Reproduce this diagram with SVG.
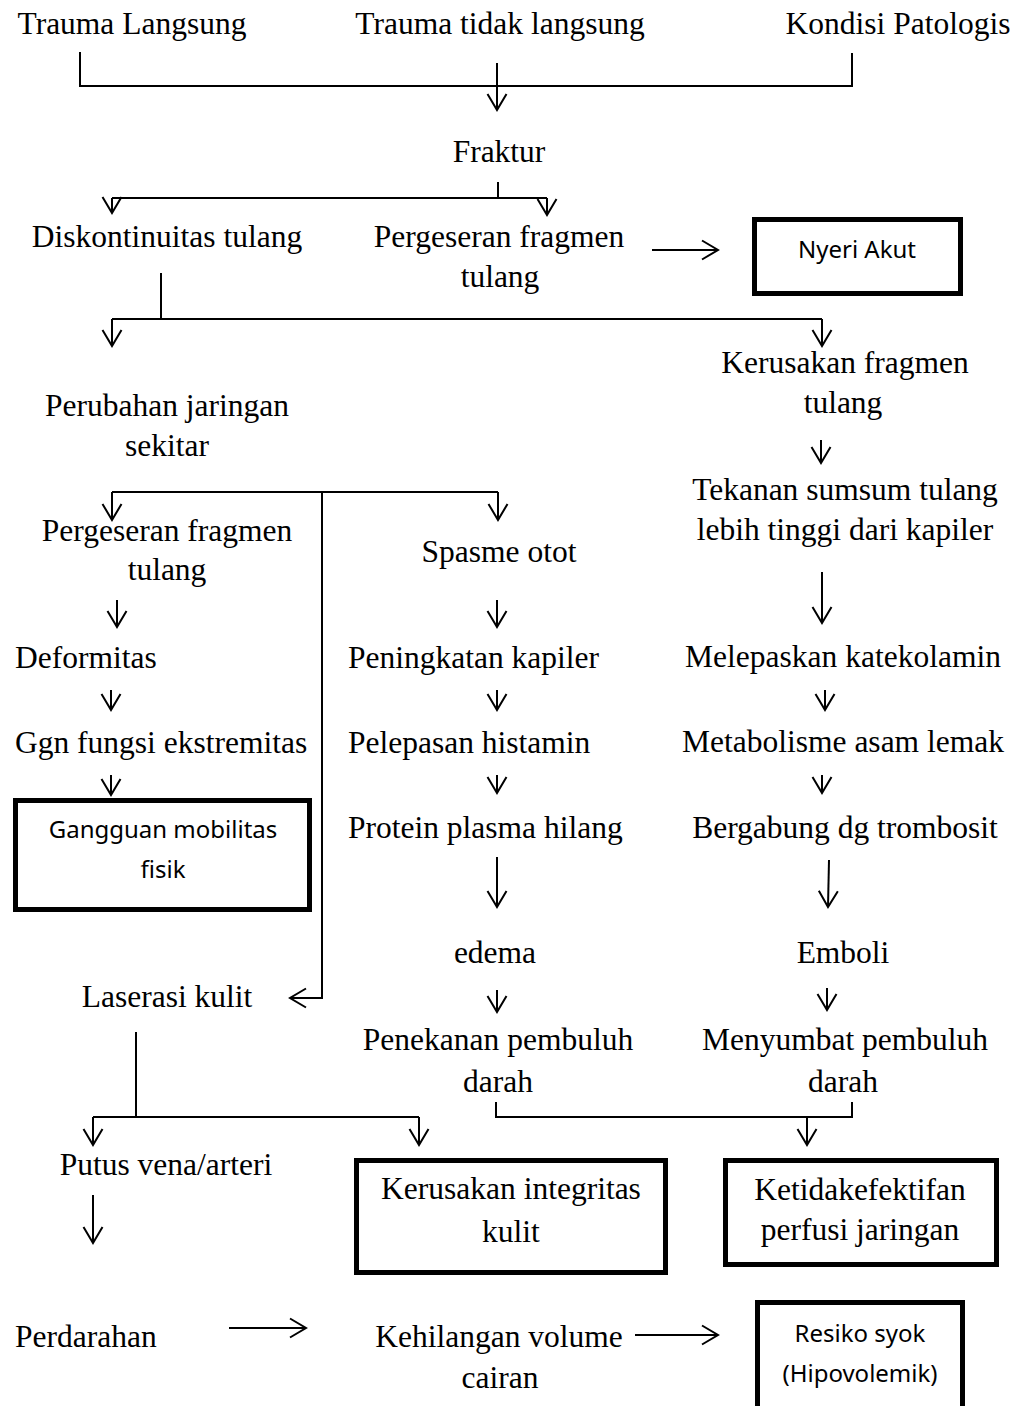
<svg xmlns="http://www.w3.org/2000/svg" width="1031" height="1406" viewBox="0 0 1031 1406">
<style>
.t{font-family:"Liberation Serif","Times New Roman",serif;font-size:31.5px;fill:#000}
.c{font-family:"Noto Sans","Liberation Sans",sans-serif;font-size:24px;fill:#000}
.m{text-anchor:middle}
.box{fill:none;stroke:#000;stroke-width:5}
.ln{fill:none;stroke:#000;stroke-width:2}
.ar{fill:none;stroke:#000;stroke-width:2;marker-end:url(#a)}
</style>
<defs>
<marker id="a" markerUnits="userSpaceOnUse" markerWidth="22" markerHeight="24" viewBox="-19 -12 22 24" refX="0" refY="0" orient="auto">
<path d="M-16,-9.5 L0,0 L-16,9.5" fill="none" stroke="#000" stroke-width="2"/>
</marker>
</defs>
<rect width="1031" height="1406" fill="#fff"/>

<g id="n-trauma-langsung"><text class="t m" x="132" y="34">Trauma Langsung</text></g>
<g id="n-trauma-tidak"><text class="t m" x="500" y="34">Trauma tidak langsung</text></g>
<g id="n-kondisi"><text class="t m" x="898" y="34">Kondisi Patologis</text></g>
<g id="n-fraktur"><text class="t m" x="499" y="162">Fraktur</text></g>
<g id="n-diskontinuitas"><text class="t m" x="167" y="247">Diskontinuitas tulang</text></g>
<g id="n-pergeseran1"><text class="t m" x="499" y="247">Pergeseran fragmen</text><text class="t m" x="500" y="287">tulang</text></g>
<g id="n-nyeri"><rect class="box" x="754.5" y="219.5" width="206" height="74"/><text class="c m" x="857" y="258">Nyeri Akut</text></g>
<g id="n-perubahan"><text class="t m" x="167" y="416">Perubahan jaringan</text><text class="t m" x="167" y="456">sekitar</text></g>
<g id="n-kerusakan-fragmen"><text class="t m" x="845" y="373">Kerusakan fragmen</text><text class="t m" x="843" y="413">tulang</text></g>
<g id="n-tekanan"><text class="t m" x="845" y="500">Tekanan sumsum tulang</text><text class="t m" x="845" y="540">lebih tinggi dari kapiler</text></g>
<g id="n-pergeseran2"><text class="t m" x="167" y="541">Pergeseran fragmen</text><text class="t m" x="167" y="580">tulang</text></g>
<g id="n-spasme"><text class="t m" x="499" y="562">Spasme otot</text></g>
<g id="n-deformitas"><text class="t" x="15" y="668">Deformitas</text></g>
<g id="n-ggn"><text class="t" x="15" y="753">Ggn fungsi ekstremitas</text></g>
<g id="n-gangguan"><rect class="box" x="15.5" y="800.5" width="294" height="109"/><text class="c m" x="163" y="838">Gangguan mobilitas</text><text class="c m" x="163" y="878">fisik</text></g>
<g id="n-peningkatan"><text class="t" x="348" y="668">Peningkatan kapiler</text></g>
<g id="n-pelepasan"><text class="t" x="348" y="753">Pelepasan histamin</text></g>
<g id="n-protein"><text class="t" x="348" y="838">Protein plasma hilang</text></g>
<g id="n-edema"><text class="t m" x="495" y="963">edema</text></g>
<g id="n-penekanan"><text class="t m" x="498" y="1050">Penekanan pembuluh</text><text class="t m" x="498" y="1092">darah</text></g>
<g id="n-melepaskan"><text class="t m" x="843" y="667">Melepaskan katekolamin</text></g>
<g id="n-metabolisme"><text class="t m" x="843" y="752">Metabolisme asam lemak</text></g>
<g id="n-bergabung"><text class="t m" x="845" y="838">Bergabung dg trombosit</text></g>
<g id="n-emboli"><text class="t m" x="843" y="963">Emboli</text></g>
<g id="n-menyumbat"><text class="t m" x="845" y="1050">Menyumbat pembuluh</text><text class="t m" x="843" y="1092">darah</text></g>
<g id="n-laserasi"><text class="t m" x="167" y="1007">Laserasi kulit</text></g>
<g id="n-putus"><text class="t m" x="166" y="1175">Putus vena/arteri</text></g>
<g id="n-kerusakan-integritas"><rect class="box" x="356.5" y="1160.5" width="309" height="112"/><text class="t m" x="511" y="1199">Kerusakan integritas</text><text class="t m" x="511" y="1242">kulit</text></g>
<g id="n-ketidakefektifan"><rect class="box" x="725.5" y="1160.5" width="271" height="104"/><text class="t m" x="860" y="1200">Ketidakefektifan</text><text class="t m" x="860" y="1240">perfusi jaringan</text></g>
<g id="n-perdarahan"><text class="t" x="15" y="1347">Perdarahan</text></g>
<g id="n-kehilangan"><text class="t m" x="499" y="1347">Kehilangan volume</text><text class="t m" x="500" y="1388">cairan</text></g>
<g id="n-resiko"><rect class="box" x="757.5" y="1302.5" width="205" height="120"/><text class="c m" x="860" y="1342">Resiko syok</text><text class="c m" x="860" y="1382">(Hipovolemik)</text></g>

<g id="connectors">
<polyline class="ln" points="80,52 80,86 852,86 852,53"/>
<line class="ar" x1="497" y1="63" x2="497" y2="110"/>
<line class="ln" x1="498" y1="182" x2="498" y2="198"/>
<line class="ln" x1="112" y1="198" x2="547" y2="198"/>
<line class="ar" x1="112" y1="198" x2="112" y2="213"/>
<line class="ar" x1="547" y1="198" x2="547" y2="215"/>
<line class="ar" x1="652" y1="250" x2="718" y2="250"/>
<line class="ln" x1="161" y1="273" x2="161" y2="319"/>
<line class="ln" x1="112" y1="319" x2="822" y2="319"/>
<line class="ar" x1="112" y1="319" x2="112" y2="346"/>
<line class="ar" x1="822" y1="319" x2="822" y2="346"/>
<line class="ar" x1="821" y1="440" x2="821" y2="463"/>
<line class="ar" x1="822" y1="572" x2="822" y2="623"/>
<line class="ln" x1="112" y1="492" x2="498" y2="492"/>
<line class="ar" x1="112" y1="492" x2="112" y2="520"/>
<line class="ar" x1="498" y1="492" x2="498" y2="520"/>
<polyline class="ar" points="322,492 322,998 290,998"/>
<line class="ar" x1="117" y1="600" x2="117" y2="627"/>
<line class="ar" x1="497" y1="600" x2="497" y2="627"/>
<line class="ar" x1="111" y1="690" x2="111" y2="710"/>
<line class="ar" x1="111" y1="775" x2="111" y2="795"/>
<line class="ar" x1="497" y1="690" x2="497" y2="710"/>
<line class="ar" x1="497" y1="775" x2="497" y2="793"/>
<line class="ar" x1="497" y1="857" x2="497" y2="907"/>
<line class="ar" x1="497" y1="990" x2="497" y2="1012"/>
<line class="ar" x1="825" y1="690" x2="825" y2="710"/>
<line class="ar" x1="822" y1="775" x2="822" y2="793"/>
<line class="ar" x1="829" y1="860" x2="828" y2="907"/>
<line class="ar" x1="827" y1="988" x2="827" y2="1010"/>
<polyline class="ln" points="496,1102 496,1117 852,1117 852,1102"/>
<line class="ar" x1="807" y1="1117" x2="807" y2="1145"/>
<line class="ln" x1="136" y1="1032" x2="136" y2="1117"/>
<line class="ln" x1="93" y1="1117" x2="419" y2="1117"/>
<line class="ar" x1="93" y1="1117" x2="93" y2="1145"/>
<line class="ar" x1="419" y1="1117" x2="419" y2="1145"/>
<line class="ar" x1="93" y1="1195" x2="93" y2="1243"/>
<line class="ar" x1="229" y1="1328" x2="306" y2="1328"/>
<line class="ar" x1="635" y1="1335" x2="718" y2="1335"/>
</g>
</svg>
